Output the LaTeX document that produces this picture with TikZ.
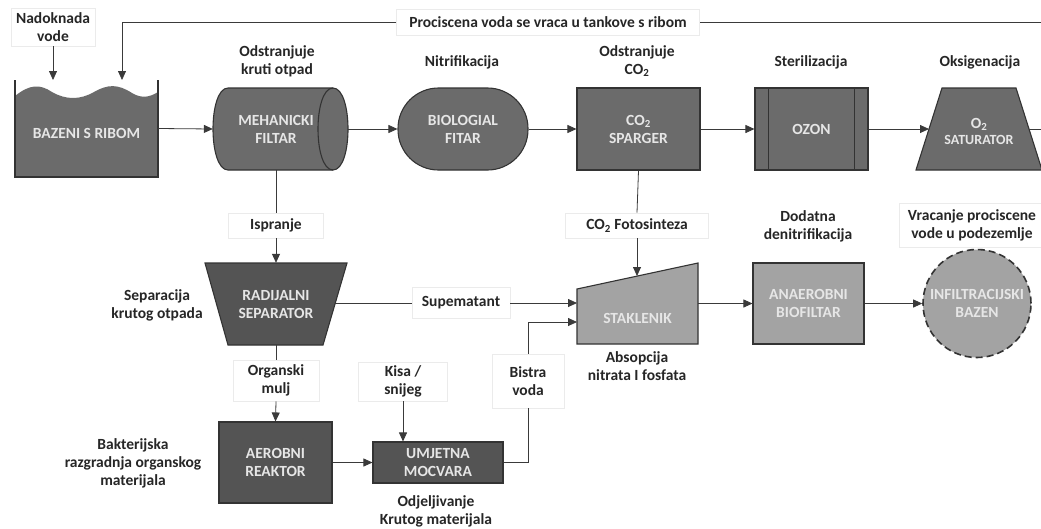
\documentclass[tikz,border=0pt]{standalone}
\usepackage{fontspec}
\setmainfont{Carlito}
\usetikzlibrary{arrows.meta,calc}
\definecolor{topfill}{HTML}{6B6B6B}
\definecolor{darkfill}{HTML}{545454}
\definecolor{lightfill}{HTML}{A3A3A3}
\definecolor{edge}{HTML}{333333}
\definecolor{wire}{HTML}{3A3A3A}
\definecolor{intxt}{HTML}{E6E6E6}
\definecolor{faint}{HTML}{EBEBEB}
\tikzset{
  x=1pt, y=-1pt,
  every node/.style={font=\fontsize{15.5}{18}\selectfont\bfseries, align=center, inner sep=0pt},
  shapeedge/.style={draw=edge, line width=1.1pt},
  intext/.style={text=intxt},
  lblbox/.style={draw=faint, fill=white, line width=0.8pt},
  note/.style={text=black!85},
  conn/.style={draw=wire, line width=0.8pt},
  arr/.style={conn, -{Triangle[length=9pt,width=8pt]}},
}
\begin{document}
\begin{tikzpicture}
\useasboundingbox (0,0) rectangle (1041,528);
\fill[white] (0,0) rectangle (1041,528);

% ---------- BAZENI S RIBOM ----------
\fill[topfill] (15,96) .. controls (30,84) and (40,84) .. (52,92)
   .. controls (66,100) and (80,100) .. (94,92)
   .. controls (108,84) and (118,84) .. (132,93)
   .. controls (142,99) and (150,97) .. (158,92) -- (158,177) -- (15,177) -- cycle;
\draw[shapeedge] (15,80) -- (15,177) -- (158,177) -- (158,80);
\node[minimum width=143pt, minimum height=97pt] (baz) at (86.5,128.5) {};
\node[intext] (baztxt) at (86.5,133) {BAZENI S RIBOM};
\coordinate (bazin1) at (53,80);
\coordinate (bazin2) at (122,80);

% ---------- MEHANICKI FILTAR ----------
\filldraw[shapeedge, fill=topfill] (228,88) -- (333,88) .. controls (353,88) and (353,170) .. (333,170) -- (228,170) .. controls (208,170) and (208,88) .. (228,88) -- cycle;
\draw[shapeedge] (333,88) .. controls (313,88) and (313,170) .. (333,170);
\node[minimum width=135pt, minimum height=82pt] (meh) at (280.5,129) {};
\node[intext] (mehtxt) at (276,129) {MEHANICKI\\FILTAR};

% ---------- BIOLOGIAL FITAR ----------
\node[shapeedge, fill=topfill, rounded corners=40.5pt, minimum width=130pt, minimum height=82pt, intext] (bio) at (463,129) {BIOLOGIAL\\FITAR};

% ---------- CO2 SPARGER ----------
\node[shapeedge, fill=topfill, minimum width=123pt, minimum height=82pt, intext] (spa) at (638.5,129) {CO\textsubscript{2}\\SPARGER};

% ---------- OZON ----------
\node[shapeedge, fill=topfill, minimum width=113pt, minimum height=82pt, intext] (ozon) at (811.5,129) {OZON};
\draw[shapeedge] ($(ozon.north west)+(14,0)$) -- ($(ozon.south west)+(14,0)$);
\draw[shapeedge] ($(ozon.north east)+(-14,0)$) -- ($(ozon.south east)+(-14,0)$);

% ---------- O2 SATURATOR ----------
\filldraw[shapeedge, fill=topfill] (942,88) -- (1016,88) -- (1042,170) -- (916,170) -- cycle;
\node[intext] (sat) at (979,131) {O\textsubscript{2}\\[-2pt]{\fontsize{14}{16}\selectfont SATURATOR}};
\coordinate (satin) at (929,129);
\coordinate (satout) at (1029,129);
\coordinate (rightedge) at (1041,129);

% ---------- top labels ----------
\node[note] (l1) at (277,61) {Odstranjuje\\kruti otpad};
\node[note] (l2) at (462,62) {Nitrifikacija};
\node[note] (l3) at (637,61) {Odstranjuje\\CO\textsubscript{2}};
\node[note] (l4) at (811,62) {Sterilizacija};
\node[note] (l5) at (980,62) {Oksigenacija};

% ---------- feedback ----------
\node[lblbox, note, minimum width=84pt, minimum height=38pt] (nad) at (53,27) {Nadoknada\\vode};
\node[lblbox, note, minimum width=303pt, minimum height=26pt] (ret) at (548,22) {Prociscena voda se vraca u tankove s ribom};
\coordinate (retR) at (1041,22);

% ---------- RADIJALNI SEPARATOR ----------
\filldraw[shapeedge, fill=darkfill] (205,263) -- (347,263) -- (323,345) -- (228,345) -- cycle;
\node[minimum width=142pt, minimum height=82pt] (sep) at (276,304) {};
\node[intext] (septxt) at (276,305) {RADIJALNI\\SEPARATOR};
\coordinate (sepR) at (335,303);
\node[note] (l6) at (157,305) {Separacija\\krutog otpada};

\node[lblbox, note, minimum width=95pt, minimum height=25pt] (isp) at (276,225.5) {Ispranje};

% ---------- STAKLENIK ----------
\filldraw[shapeedge, fill=lightfill] (577,289) -- (698,263) -- (698,344) -- (577,344) -- cycle;
\node[minimum width=121pt, minimum height=81pt] (sta) at (637.5,303.5) {};
\node[intext] (statxt) at (637.5,318) {STAKLENIK};
\coordinate (stain1) at (577,303);
\coordinate (stain2) at (577,322);
\coordinate (statop) at (637,276);
\node[note] (l7) at (637,366) {Absopcija\\nitrata I fosfata};

\node[lblbox, note, minimum width=143pt, minimum height=25pt] (fot) at (637,225.5) {CO\textsubscript{2} Fotosinteza};
\node[lblbox, note, minimum width=98pt, minimum height=31pt] (sup) at (461,303) {Supematant};

% ---------- ANAEROBNI ----------
\node[shapeedge, fill=lightfill, minimum width=111pt, minimum height=81pt, intext] (ana) at (808.5,303.5) {ANAEROBNI\\BIOFILTAR};
\node[note] (l8) at (808,226) {Dodatna\\denitrifikacija};

% ---------- INFILTRACIJSKI ----------
\node[draw=edge, line width=1.6pt, dash pattern=on 7pt off 4pt, fill=lightfill, circle, minimum size=108pt, intext] (inf) at (977,303.5) {INFILTRACIJSKI\\BAZEN};
\node[lblbox, note, minimum width=146pt, minimum height=44pt] (vra) at (972,225) {Vracanje prociscene\\vode u podezemlje};

% ---------- bottom row ----------
\node[lblbox, note, minimum width=86pt, minimum height=41pt] (org) at (276,380.5) {Organski\\mulj};
\node[shapeedge, fill=darkfill, minimum width=113pt, minimum height=81pt, intext] (aer) at (275.5,462.5) {AEROBNI\\REAKTOR};
\node[note] (l9) at (133,463) {Bakterijska\\razgradnja organskog\\materijala};

\node[shapeedge, fill=darkfill, minimum width=130pt, minimum height=41pt, intext] (umj) at (438,462.5) {UMJETNA\\MOCVARA};
\node[note] (l10) at (436,511) {Odjeljivanje\\Krutog materijala};
\node[lblbox, note, minimum width=89pt, minimum height=39pt] (kis) at (403,381.5) {Kisa /\\snijeg};
\node[lblbox, note, minimum width=72pt, minimum height=54pt] (bis) at (528,381) {Bistra\\voda};

% ---------- connectors ----------
\draw[arr] (nad.south) -- (bazin1);
\draw[conn] (retR) -- (ret.east);
\draw[arr] (ret.west) -| (bazin2);
\draw[arr] (baz.east) -- (meh.west);
\draw[arr] (meh.east) -- (bio.west);
\draw[arr] (bio.east) -- (spa.west);
\draw[arr] (spa.east) -- (ozon.west);
\draw[arr] (ozon.east) -- (satin);
\draw[conn] (satout) -- (rightedge);

\draw[conn] (meh.south -| isp.north) -- (isp.north);
\draw[arr] (isp.south) -- (sep.north -| isp.south);
\draw[conn] (sepR) -- (sup.west);
\draw[arr] (sup.east) -- (stain1);
\draw[conn] (spa.south) -- (fot.north);
\draw[arr] (fot.south) -- (statop);
\draw[arr] (sta.east) -- (ana.west);
\draw[arr] (ana.east) -- (inf.west);

\draw[conn] (sep.south) -- (org.north);
\draw[arr] (org.south) -- (aer.north);
\draw[arr] (aer.east) -- (umj.west);
\draw[arr] (kis.south) -- (kis.south |- umj.north);
\draw[conn] (umj.east) -| (bis.south);
\draw[arr] (bis.north) |- (stain2);
\end{tikzpicture}
\end{document}
